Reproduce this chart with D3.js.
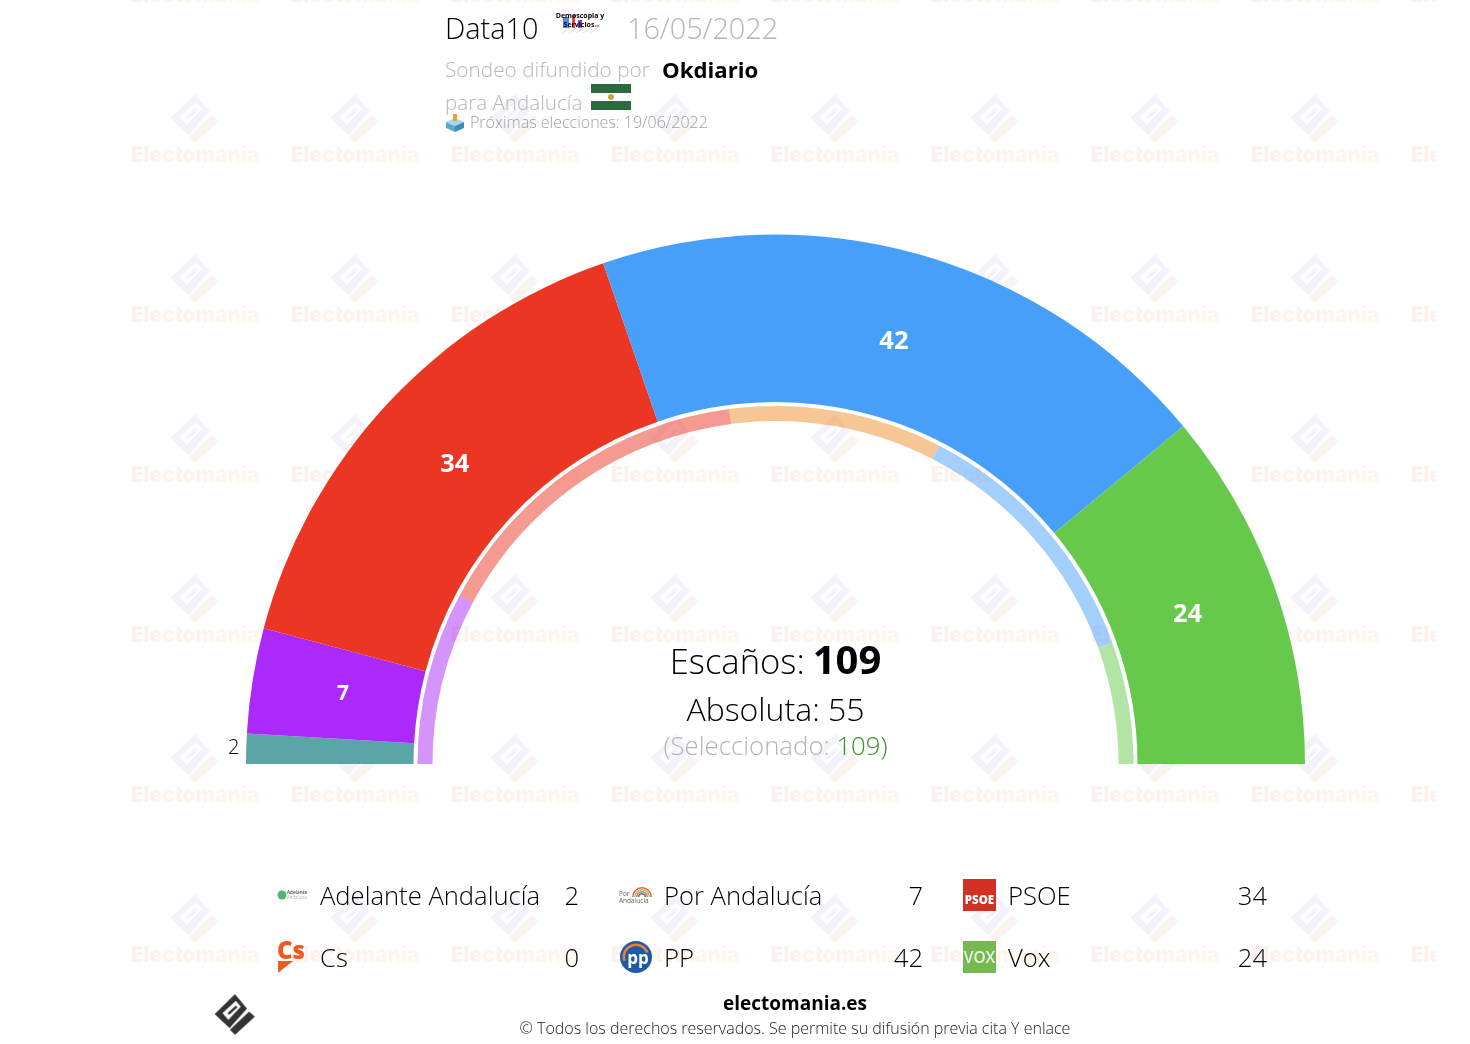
<!DOCTYPE html>
<html>
<head>
<meta charset="utf-8">
<script src="https://cdn.jsdelivr.net/npm/d3@7"></script>
<style>
  html, body { margin: 0; padding: 0; background: #fff; }
  svg { display: block; }
  text { font-family: "Open Sans", sans-serif; font-weight: 300; }
</style>
</head>
<body>
<div id="chart"></div>
<script>
// Current poll, in hemicycle order
var parties = ["Adelante Andalucía", "Por Andalucía", "PSOE", "Cs", "PP", "Vox"];
var seats = [2, 7, 34, 0, 42, 24];
var partyColors = ["#5aa5a6", "#ab2af9", "#eb3623", "#f5923e", "#479ffa", "#66c94c"];

// Inner ring: previous parliament
var prevParties = ["Adelante Andalucía", "PSOE", "Cs", "PP", "Vox"];
var prevSeats = [17, 33, 21, 26, 12];
var prevColors = ["#ab2af9", "#eb3623", "#ee8f2b", "#479ffa", "#66c94c"];

// Legend, column by column
var legendParties = ["Adelante Andalucía", "Cs", "Por Andalucía", "PP", "PSOE", "Vox"];
var legendSeats = [2, 0, 7, 42, 34, 24];

var width = 1470, height = 1044;
var cx = 775.5, cy = 764;
var outerR = 529.5, innerR = 362, ringOuter = 358, ringInner = 343;

var svg = d3.select("#chart").append("svg")
    .attr("width", width)
    .attr("height", height);

var defs = svg.append("defs");

var textGrad = defs.append("linearGradient").attr("id", "wm_text");
textGrad.append("stop").attr("offset", "0%").attr("stop-color", "#fbe6e2");
textGrad.append("stop").attr("offset", "100%").attr("stop-color", "#fff3df");

defs.append("clipPath").attr("id", "wm_clip")
  .append("rect").attr("x", 125).attr("y", 0).attr("width", 1311).attr("height", height);

// -------- logo shared by the watermark and the footer --------
function drawMark(g, dark, check, slot) {
  g.append("path")
      .attr("d", "M0,-24 L14.5,-6.5 L-6.5,17 L-24.5,0 Z")
      .attr("fill", dark);
  g.append("path")
      .attr("d", "M-15,-1 L1,-16 L7,-9 L-8,7 Z")
      .attr("fill", "#fff");
  g.append("path")
      .attr("d", "M-9,-1 L1,-10 L3,-8 L-7,1 Z")
      .attr("fill", slot);
  g.append("path")
      .attr("d", "M-6,19 L0,25 L24,3 L17,-3 L0,13 Z")
      .attr("fill", check);
}

// -------- watermark grid --------
var wm = svg.append("g").attr("clip-path", "url(#wm_clip)").attr("opacity", 0.62);
d3.range(-1, 6).forEach(function(row) {
  d3.range(0, 9).forEach(function(col) {
    var g = wm.append("g")
        .attr("transform", "translate(" + (195 + col * 160) + "," + (118 + row * 160) + ")");
    drawMark(g, "#ece8f5", "#f8ece6", "#ece8f5");
    g.append("text")
        .attr("x", 0)
        .attr("y", 44)
        .attr("text-anchor", "middle")
        .style("font-family", "Inter, sans-serif")
        .style("font-weight", 800)
        .style("font-size", "21.1px")
        .attr("fill", "url(#wm_text)")
        .text("Electomanía");
  });
});

// -------- hemicycle --------
var pie = d3.pie()
    .sort(null)
    .startAngle(-Math.PI / 2)
    .endAngle(Math.PI / 2)
    .padAngle(0);

var arc = d3.arc().innerRadius(innerR).outerRadius(outerR);
var ringArc = d3.arc().innerRadius(ringInner).outerRadius(ringOuter);
var labelArc = d3.arc().innerRadius(438).outerRadius(438);
var outsideArc = d3.arc().innerRadius(542).outerRadius(542);

var chart_g = svg.append("g").attr("transform", "translate(" + cx + "," + cy + ")");

var slices = pie(seats);
var prevSlices = pie(prevSeats);

chart_g.selectAll("path.slice")
    .data(slices)
  .enter().append("path")
    .attr("class", "slice")
    .attr("d", arc)
    .attr("fill", function(d, i) { return partyColors[i]; });

chart_g.selectAll("path.ring")
    .data(prevSlices)
  .enter().append("path")
    .attr("class", "ring")
    .attr("d", ringArc)
    .attr("fill", function(d, i) { return prevColors[i]; })
    .attr("fill-opacity", 0.5);

// small slices get a dark label outside, empty ones none
chart_g.selectAll("text.seat")
    .data(slices.filter(function(d) { return d.value > 0; }))
  .enter().append("text")
    .attr("class", "seat")
    .attr("transform", function(d) {
      var p = d.value < 3 ? outsideArc.centroid(d) : labelArc.centroid(d);
      return "translate(" + p[0] + "," + p[1] + ")";
    })
    .attr("dy", function(d) { return d.value < 3 ? "0.3em" : "0.25em"; })
    .attr("text-anchor", "middle")
    .style("font-size", function(d) { return d.value < 3 ? "20px" : d.value < 10 ? "21px" : "25.5px"; })
    .style("font-weight", function(d) { return d.value < 3 ? 300 : 700; })
    .attr("fill", function(d) { return d.value < 3 ? "#000" : "#fff"; })
    .text(function(d) { return d.value; });

// -------- centre texts --------
var total = d3.sum(seats);
var majority = Math.floor(total / 2) + 1;

var t1 = svg.append("text").attr("x", cx).attr("y", 674).attr("text-anchor", "middle");
t1.append("tspan").style("font-size", "34.6px").text("Escaños:");
t1.append("tspan").attr("dx", 8).style("font-size", "40px").style("font-weight", 700).text(total);

svg.append("text").attr("x", cx).attr("y", 721).attr("text-anchor", "middle")
    .style("font-size", "32px")
    .text("Absoluta: " + majority);

var t3 = svg.append("text").attr("x", cx).attr("y", 755).attr("text-anchor", "middle")
    .style("font-size", "25.8px")
    .attr("fill", "#b5b5b5");
t3.append("tspan").text("(Seleccionado: ");
t3.append("tspan").attr("fill", "#3b8f2c").text(total + ")");

// -------- header --------
svg.append("text").attr("x", 445).attr("y", 39).style("font-size", "28.8px").text("Data10");
svg.append("text").attr("x", 627).attr("y", 39).style("font-size", "28.8px").attr("fill", "#b5b5b5").text("16/05/2022");
svg.append("text").attr("x", 445).attr("y", 77).style("font-size", "20.8px").attr("fill", "#b8b8b8").text("Sondeo difundido por");
svg.append("text").attr("x", 662).attr("y", 78).style("font-size", "22.2px").style("font-weight", 700).text("Okdiario");
svg.append("text").attr("x", 445).attr("y", 110).style("font-size", "20.6px").attr("fill", "#b8b8b8").text("para Andalucía");
svg.append("text").attr("x", 470).attr("y", 128).style("font-size", "16px").attr("fill", "#a0a0a0").text("Próximas elecciones: 19/06/2022");

// pollster logo
var dem = svg.append("g");
[0, 1, 2, 3, 4].forEach(function(i) {
  dem.append("path")
      .attr("d", "M" + (562 + i * 7) + ",33 L" + (572 + i * 7) + ",26")
      .attr("stroke", "#ddd").attr("stroke-width", 1);
});
dem.append("rect").attr("x", 563).attr("y", 17).attr("width", 6).attr("height", 11).attr("fill", "#4a8fe0");
dem.append("rect").attr("x", 572).attr("y", 15).attr("width", 3).attr("height", 13).attr("fill", "#e04040");
dem.append("rect").attr("x", 578).attr("y", 20).attr("width", 4).attr("height", 8).attr("fill", "#7a4ad0");
dem.append("rect").attr("x", 595).attr("y", 25).attr("width", 4).attr("height", 2).attr("fill", "#f080e0");
dem.append("text").attr("x", 580).attr("y", 18).attr("text-anchor", "middle")
    .style("font-size", "7px").style("font-weight", 700).text("Demoscopia y");
dem.append("text").attr("x", 579).attr("y", 27).attr("text-anchor", "middle")
    .style("font-size", "7px").style("font-weight", 700).text("Servicios");

// flag of Andalucía
var flag = svg.append("g");
flag.append("rect").attr("x", 591).attr("y", 84).attr("width", 40).attr("height", 26).attr("fill", "#fff");
flag.append("rect").attr("x", 591).attr("y", 84).attr("width", 40).attr("height", 9).attr("fill", "#2b6a3d");
flag.append("rect").attr("x", 591).attr("y", 101).attr("width", 40).attr("height", 9).attr("fill", "#2b6a3d");
flag.append("circle").attr("cx", 611).attr("cy", 97).attr("r", 3).attr("fill", "#c9a24a");

// ballot box
var box = svg.append("g");
box.append("path").attr("d", "M455,118 L464,122 L455,126 L446,122 Z").attr("fill", "#a8d8ea");
box.append("path").attr("d", "M446,122 L455,126 L455,132 L446,128 Z").attr("fill", "#5aa9cc");
box.append("path").attr("d", "M464,122 L455,126 L455,132 L464,128 Z").attr("fill", "#3f8cb3");
box.append("rect").attr("x", 453).attr("y", 114).attr("width", 4).attr("height", 7).attr("fill", "#e8a23c");

// -------- legend --------
var colX = d3.scaleOrdinal().domain([0, 1, 2]).range([320, 664, 1008]);
var valX = d3.scaleOrdinal().domain([0, 1, 2]).range([579, 923, 1267]);
var rowY = d3.scaleOrdinal().domain([0, 1]).range([905, 967]);

var legend_g = svg.append("g");
legendParties.forEach(function(name, i) {
  var col = Math.floor(i / 2), row = i % 2;
  legend_g.append("text")
      .attr("x", colX(col))
      .attr("y", rowY(row))
      .style("font-size", "25.6px")
      .text(name);
  legend_g.append("text")
      .attr("x", valX(col))
      .attr("y", rowY(row))
      .attr("text-anchor", "end")
      .style("font-size", "25.6px")
      .text(legendSeats[i]);
});

// party logos
var logos = svg.append("g");

// Adelante Andalucía
logos.append("circle").attr("cx", 282).attr("cy", 895).attr("r", 4.5).attr("fill", "#4fb56a");
logos.append("text").attr("x", 287).attr("y", 894).style("font-size", "4.5px").style("font-weight", 700).attr("fill", "#666").text("Adelante");
logos.append("text").attr("x", 287).attr("y", 899).style("font-size", "4.5px").attr("fill", "#888").text("Andalucía");

// Cs
logos.append("text").attr("x", 277).attr("y", 959).style("font-size", "24px").style("font-weight", 800).attr("fill", "#ee5a24").text("Cs");
logos.append("path").attr("d", "M278,961 L293,961 L278,973 Z").attr("fill", "#ee5a24");

// Por Andalucía
["#e0604a", "#f0b040", "#58b868", "#a050b0"].forEach(function(c, i) {
  logos.append("path")
      .attr("d", d3.arc().innerRadius(8.5 - i * 2).outerRadius(10 - i * 2).startAngle(-Math.PI / 2).endAngle(Math.PI / 2)())
      .attr("transform", "translate(642,897)")
      .attr("fill", c);
});
logos.append("text").attr("x", 619).attr("y", 896).style("font-size", "6.5px").style("font-weight", 400).attr("fill", "#666").text("Por");
logos.append("text").attr("x", 619).attr("y", 903).style("font-size", "6.5px").style("font-weight", 400).attr("fill", "#666").text("Andalucía");

// PP
logos.append("circle").attr("cx", 636).attr("cy", 957).attr("r", 16).attr("fill", "#1f5aa8");
logos.append("path")
    .attr("d", d3.arc().innerRadius(11).outerRadius(13.5).startAngle(-1.9).endAngle(1.2)())
    .attr("transform", "translate(636,957)")
    .attr("fill", "#e8803a");
logos.append("text").attr("x", 638).attr("y", 964).attr("text-anchor", "middle")
    .style("font-size", "17px").style("font-weight", 700).attr("fill", "#fff").text("pp");

// PSOE
logos.append("rect").attr("x", 963).attr("y", 879).attr("width", 33).attr("height", 32).attr("fill", "#d32f22");
logos.append("text").attr("x", 979.5).attr("y", 904).attr("text-anchor", "middle")
    .style("font-size", "11.5px").style("font-weight", 800).attr("fill", "#fff").text("PSOE");

// Vox
logos.append("rect").attr("x", 963).attr("y", 941).attr("width", 33).attr("height", 32).attr("fill", "#76b852");
logos.append("text").attr("x", 979.5).attr("y", 963).attr("text-anchor", "middle")
    .style("font-size", "15.5px").style("font-weight", 600).attr("fill", "#e8f5e0").text("VOX");

// -------- footer --------
svg.append("text").attr("x", 795).attr("y", 1010).attr("text-anchor", "middle")
    .style("font-size", "19px").style("font-weight", 700).text("electomania.es");
svg.append("text").attr("x", 795).attr("y", 1034).attr("text-anchor", "middle")
    .style("font-size", "16px").style("font-weight", 300).attr("fill", "#222")
    .text("© Todos los derechos reservados. Se permite su difusión previa cita Y enlace");

var foot = svg.append("g").attr("transform", "translate(235,1014) scale(0.83)");
drawMark(foot, "#333", "#333", "#333");
</script>
</body>
</html>
